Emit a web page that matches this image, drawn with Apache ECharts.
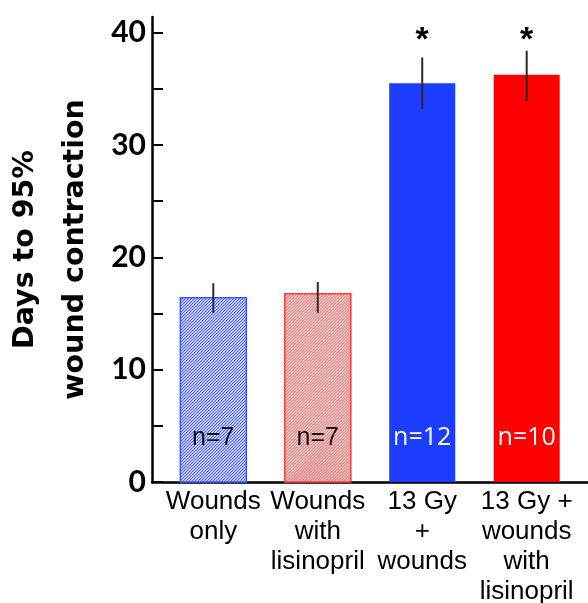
<!DOCTYPE html>
<html><head><meta charset="utf-8">
<script src="https://cdn.jsdelivr.net/npm/echarts@6/dist/echarts.min.js"></script>
<style>html,body{margin:0;padding:0;background:#fff}#c{width:588px;height:603px}</style>
</head><body><div id="c"></div>
<script>
const categories = ['Wounds\nonly', 'Wounds\nwith\nlisinopril', '13 Gy\n+\nwounds', '13 Gy +\nwounds\nwith\nlisinopril'];
const means = [16.4, 16.75, 35.5, 36.25];
const errLow = [15.05, 15.05, 33.2, 33.9];
const errHigh = [17.7, 17.8, 37.8, 38.4];
const nLabels = ['n=7', 'n=7', 'n=12', 'n=10'];
const significance = ['', '', '*', '*'];
const yTicks = [0, 5, 10, 15, 20, 25, 30, 35, 40];
const yTickLabels = [0, 10, 20, 30, 40];

const styles = [
  { fill: '#ffffff', hatch: '#6274e8', stroke: '#3a58ff', lineWidth: 1.5, text: '#111', font: 'Liberation Sans' },
  { fill: '#ffffff', hatch: '#f06a6a', stroke: '#ff3a3a', lineWidth: 1.5, text: '#111', font: 'Liberation Sans' },
  { fill: '#1c3cff', hatch: null, stroke: null, lineWidth: 0, text: '#fff', font: 'Open Sans' },
  { fill: '#ff0000', hatch: null, stroke: null, lineWidth: 0, text: '#fff', font: 'Open Sans' }
];
const BAR_W = 66;
const HATCH_STEP = 3;

function hatchPath(x0, y0, x1, y1) {
  // lines x + y = c, clipped to rect
  let d = '';
  for (let c = x0 + y0; c <= x1 + y1; c += HATCH_STEP) {
    const xa = Math.max(x0, c - y1), xb = Math.min(x1, c - y0);
    if (xb <= xa) continue;
    d += 'M' + xa.toFixed(2) + ' ' + (c - xa).toFixed(2) + 'L' + xb.toFixed(2) + ' ' + (c - xb).toFixed(2);
  }
  return d;
}

const chart = echarts.init(document.getElementById('c'), null, { renderer: 'canvas' });
chart.setOption({
  animation: false,
  backgroundColor: '#fff',
  grid: { left: 152, right: 0, top: 17, bottom: 121, containLabel: false, outerBoundsMode: 'none' },
  xAxis: {
    type: 'value', min: -0.587, max: 3.587,
    axisLine: { show: true, lineStyle: { color: '#000', width: 2.5 } },
    axisTick: { show: false },
    splitLine: { show: false },
    axisLabel: {
      customValues: [0, 1, 2, 3],
      formatter: v => categories[Math.round(v)] || '',
      fontFamily: 'Liberation Sans', fontSize: 26, lineHeight: 30, color: '#000',
      align: 'center', margin: 5, hideOverlap: false
    }
  },
  yAxis: {
    type: 'value', min: 0, max: 41.4,
    axisLine: { show: true, onZero: false, lineStyle: { color: '#000', width: 2.5 } },
    axisTick: { show: true, inside: true, length: 11, customValues: yTicks, lineStyle: { color: '#000', width: 2 } },
    splitLine: { show: false },
    axisLabel: { customValues: yTickLabels, fontFamily: 'Lato', fontWeight: 'bold', fontSize: 30, color: '#000', margin: 6 },
    name: 'Days to 95%\nwound contraction',
    nameLocation: 'middle', nameGap: 50, nameRotate: 90,
    nameTextStyle: { fontFamily: 'DejaVu Sans', fontWeight: 'bold', fontSize: 28.5, lineHeight: 50, color: '#000', align: 'center' }
  },
  series: [
    {
      type: 'custom', z: 2, clip: false,
      encode: { x: 0, y: 1 },
      data: means.map((v, i) => [i, v]),
      renderItem: (params, api) => {
        const i = params.dataIndex;
        const x = api.value(0);
        const p0 = api.coord([x, 0]);
        const p1 = api.coord([x, api.value(1)]);
        const st = styles[i];
        const rx = p0[0] - BAR_W / 2, ry = p1[1], rh = p0[1] - p1[1];
        const children = [
          { type: 'rect', shape: { x: rx, y: ry, width: BAR_W, height: rh }, style: { fill: st.fill } }
        ];
        if (st.hatch) {
          children.push({ type: 'path', shape: { pathData: hatchPath(rx, ry, rx + BAR_W, ry + rh) },
            style: { fill: null, stroke: st.hatch, lineWidth: 1.3 } });
          children.push({ type: 'rect', shape: { x: rx, y: ry, width: BAR_W, height: rh },
            style: { fill: null, stroke: st.stroke, lineWidth: st.lineWidth } });
        }
        children.push({ type: 'text', style: { text: nLabels[i], x: p0[0], y: p0[1] - 44, align: 'center', verticalAlign: 'middle',
          font: '25px "' + st.font + '"', fill: st.text } });
        return { type: 'group', children };
      }
    },
    {
      type: 'custom', z: 5, clip: false,
      encode: { x: 0, y: [1, 2] },
      data: means.map((v, i) => [i, errLow[i], errHigh[i]]),
      renderItem: (params, api) => {
        const x = api.value(0);
        const lo = api.coord([x, api.value(1)]);
        const hi = api.coord([x, api.value(2)]);
        const children = [{
          type: 'line',
          shape: { x1: lo[0], y1: lo[1], x2: hi[0], y2: hi[1] },
          style: { stroke: '#2a2a2a', lineWidth: 2 }
        }];
        const s = significance[params.dataIndex];
        if (s) {
          const p = api.coord([x, 40]);
          children.push({
            type: 'text',
            style: { text: s, x: p[0], y: p[1] + 8, align: 'center', verticalAlign: 'middle',
              font: 'bold 34px "Liberation Sans"', fill: '#000' }
          });
        }
        return { type: 'group', children };
      }
    }
  ]
});
</script>
</body></html>
